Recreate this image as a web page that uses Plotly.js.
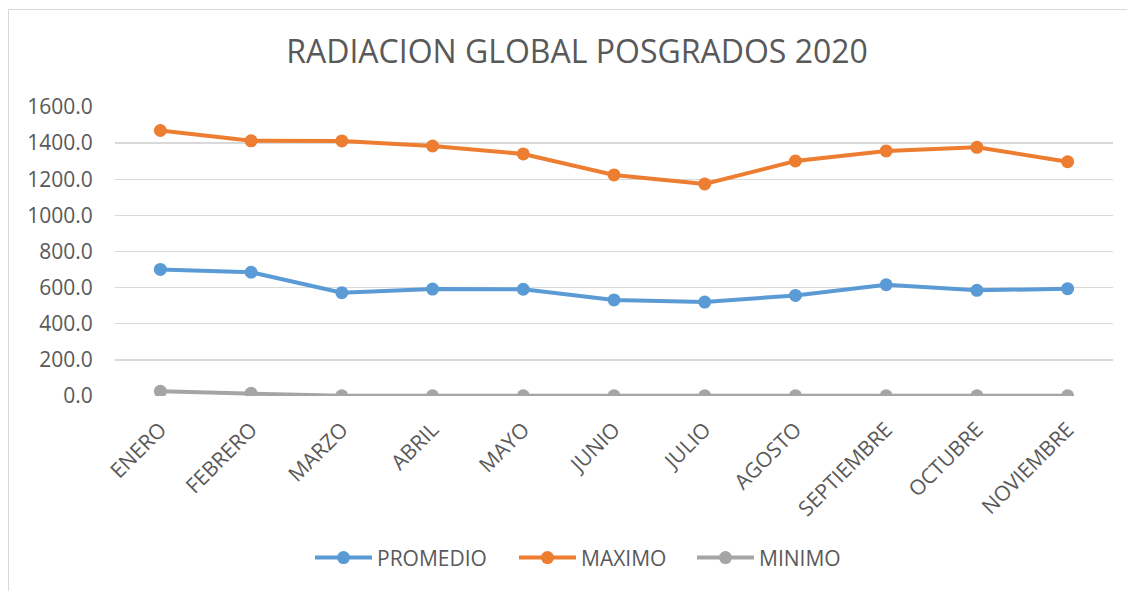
<!DOCTYPE html>
<html>
<head>
<meta charset="utf-8">
<script src="https://cdn.plot.ly/plotly-3.0.1.min.js"></script>
<style>
  html, body { margin: 0; padding: 0; background: #fff; overflow: hidden; }
  #wrap { position: relative; width: 1127px; height: 591px; overflow: hidden; }
  #chart { position: absolute; left: 0; top: 0; width: 1127px; height: 591px; }
  #frame { position: absolute; left: 8px; top: 9px; width: 1130px; height: 600px;
           border-left: 1.5px solid #d9d9d9; border-top: 1.5px solid #d9d9d9; pointer-events: none; }
</style>
</head>
<body>
<div id="wrap">
  <div id="chart"></div>
  <div id="frame"></div>
</div>
<script>
const months = ["ENERO", "FEBRERO", "MARZO", "ABRIL", "MAYO", "JUNIO", "JULIO", "AGOSTO", "SEPTIEMBRE", "OCTUBRE", "NOVIEMBRE"];
const promedio = [701, 685, 572, 592, 591, 532, 520, 557, 616, 585, 594];
const maximo = [1470, 1413, 1412, 1384, 1340, 1224, 1174, 1301, 1357, 1377, 1297];
const minimo = [26, 15, 1, 1, 1, 1, 1, 1, 1, 1, 1];
const yTicks = [0, 200, 400, 600, 800, 1000, 1200, 1400, 1600];

const font = "Open Sans, Noto Sans, sans-serif";
function series(name, y, color, legend) {
  return {
    type: "scatter", mode: "lines+markers", name: name, x: months, y: y, legend: legend,
    line: { color: color, width: 4 },
    marker: { color: color, size: 13 }
  };
}
const data = [
  series("PROMEDIO", promedio, "#5B9BD5", "legend"),
  series("MAXIMO", maximo, "#ED7D31", "legend2"),
  series("MINIMO", minimo, "#A5A5A5", "legend3")
];
function leg(xpx) {
  return { orientation: "h", x: xpx / 1127, xref: "container", xanchor: "left",
           y: 0.056, yref: "container", yanchor: "middle", bgcolor: "rgba(0,0,0,0)",
           itemwidth: 57,
           font: { family: font, size: 21, color: "#595959" } };
}
const layout = {
  width: 1127, height: 591,
  margin: { l: 115, r: 14, t: 107, b: 195 },
  paper_bgcolor: "#fff", plot_bgcolor: "#fff",
  showlegend: true,
  title: { text: "RADIACION GLOBAL POSGRADOS 2020", font: { family: font, size: 32, color: "#595959" },
           x: 0.512, xanchor: "center", yref: "container", y: 0.912, yanchor: "middle" },
  xaxis: {
    type: "category", range: [-0.5, 10.5], tickangle: -45,
    showgrid: false, zeroline: false, showline: false,
    ticks: "outside", ticklen: 12, tickcolor: "rgba(0,0,0,0)",
    tickfont: { family: font, size: 21, color: "#595959" }, automargin: false
  },
  yaxis: {
    range: [0, 1600], tickvals: yTicks, ticktext: yTicks.map(v => v.toFixed(1)),
    showgrid: true, gridcolor: "#d9d9d9", gridwidth: 1.4, zeroline: false, showline: false,
    ticks: "outside", ticklen: 17, tickcolor: "rgba(0,0,0,0)",
    tickfont: { family: font, size: 21, color: "#595959" }, automargin: false
  },
  legend: leg(310),
  legend2: leg(514),
  legend3: leg(692)
};
function fixLegend(gd) {
  gd.querySelectorAll(".legendlines path").forEach(function (p) { p.setAttribute("d", "M5,0h57"); });
  gd.querySelectorAll(".legendpoints path.scatterpts").forEach(function (p) {
    p.setAttribute("transform", "translate(33.5,0)");
  });
}
Plotly.newPlot("chart", data, layout, { displayModeBar: false, staticPlot: true }).then(function (gd) {
  fixLegend(gd);
  setTimeout(function () { fixLegend(gd); }, 50);
});
</script>
</body>
</html>
